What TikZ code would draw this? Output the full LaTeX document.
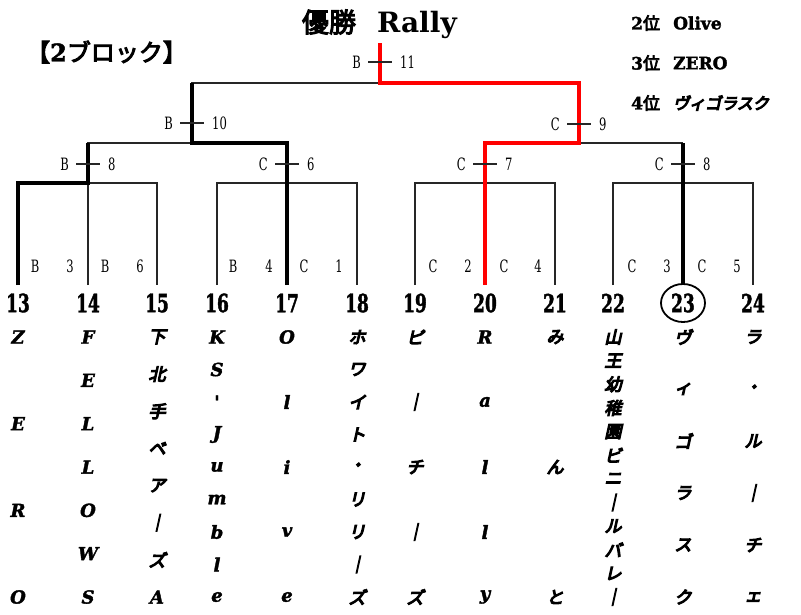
\documentclass[tikz,border=0pt]{standalone}
\usepackage{fontspec}
\setmainfont{DejaVu Serif}
\newfontfamily\narrowserif[FakeStretch=0.68]{DejaVu Serif}
\newfontfamily\seedserif[FakeStretch=0.68,FakeBold=1.5]{DejaVu Serif}
\newfontfamily\heavyserif[FakeBold=2]{DejaVu Serif}
\newfontfamily\jpfont[FakeBold=4]{Noto Sans CJK JP}
\newfontfamily\jpslant[FakeBold=7,FakeSlant=0.22]{Noto Sans CJK JP}
\usetikzlibrary{positioning}

\newcommand\latname{\heavyserif\bfseries\itshape\fontsize{18}{18}\selectfont}
\newcommand\jpname{\jpslant\fontsize{17}{17}\selectfont}

% team name, one letter a line, spread from y=337 down to y=597
\newcommand\teamname[5]{%
  \foreach \ch [count=\k] in {#5}
    \node[namech, font=#4] (name#1-\k) at (#2, {337+(\k-1)*260/(#3-1)}) {\ch};
}
% mark on a bracket line: court on the left, match number on the right
\newcommand\roundmark[5]{%
  \coordinate (#1) at (#2,#3);
  \draw[tick] ([xshift=-12pt]#1) -- ([xshift=12pt]#1);
  \node[court, left=19pt of #1] (#1-court) {#4};
  \node[court, right=20pt of #1] (#1-game) {#5};
}

\begin{document}
\begin{tikzpicture}[x=1pt, y=-1pt,
    bracket/.style={draw=black!85, line width=1.2pt},
    winner/.style={draw=black, line width=4.5pt},
    champion/.style={draw=red, line width=4.5pt},
    tick/.style={draw=black!85, line width=1.1pt},
    court/.style={inner sep=0pt, font=\narrowserif\fontsize{17}{17}\selectfont},
    seed/.style={inner sep=0pt, font=\seedserif\bfseries\fontsize{25}{25}\selectfont},
    rank/.style={inner sep=0pt, anchor=west, font=\jpfont\fontsize{17}{17}\selectfont},
    namech/.style={inner sep=0pt},
  ]
  \useasboundingbox (0,0) rectangle (801,614);

  % headings
  \node[inner sep=0pt, font=\jpfont\fontsize{27}{27}\selectfont] (title) at (329,22) {優勝};
  \node[inner sep=0pt, anchor=base west, font=\bfseries\fontsize{28}{28}\selectfont] (titlename) at (377,32) {Rally};
  \node[inner sep=0pt, anchor=west, font=\jpfont\fontsize{24}{24}\selectfont] (block) at (26,52) {【{\heavyserif\bfseries 2}ブロック】};

  \node[rank] (rank2) at (631,23) {{\heavyserif\bfseries 2}位};
  \node[rank] (rank3) at (631,63) {{\heavyserif\bfseries 3}位};
  \node[rank] (rank4) at (631,103) {{\heavyserif\bfseries 4}位};
  \node[rank, font=\heavyserif\bfseries\fontsize{17}{17}\selectfont] (rank2name) at (673,23) {Olive};
  \node[rank, font=\heavyserif\bfseries\fontsize{17}{17}\selectfont] (rank3name) at (673,63) {ZERO};
  \node[rank, font=\jpslant\fontsize{16}{16}\selectfont] (rank4name) at (673,103) {ヴィゴラスク};

  % bracket
  \draw[bracket] (18,285) -- (18,183) -- (157,183) -- (157,285);
  \draw[bracket] (88,285) -- (88,143) -- (287,143);
  \draw[bracket] (217,285) -- (217,183) -- (357,183) -- (357,285);
  \draw[bracket] (287,285) -- (287,143);
  \draw[bracket] (192,143) -- (192,83) -- (579,83);
  \draw[bracket] (415,285) -- (415,183) -- (555,183) -- (555,285);
  \draw[bracket] (485,285) -- (485,143) -- (683,143);
  \draw[bracket] (613,285) -- (613,183) -- (753,183) -- (753,285);
  \draw[bracket] (683,285) -- (683,143);
  \draw[bracket] (579,143) -- (579,83);
  \draw[bracket] (380,83) -- (380,43);

  % winners
  \draw[winner] (18,285) -- (18,183) -- (88,183) -- (88,143);
  \draw[winner] (287,285) -- (287,143) -- (192,143) -- (192,83);
  \draw[winner] (683,284) -- (683,143);
  \draw[champion] (485,285) -- (485,143) -- (579,143) -- (579,83) -- (380,83) -- (380,43);

  \roundmark{m11}{380}{62}{B}{11}
  \roundmark{m10}{192}{123}{B}{10}
  \roundmark{m9}{579}{124}{C}{9}
  \roundmark{m8}{88}{164}{B}{8}
  \roundmark{m6}{287}{164}{C}{6}
  \roundmark{m7}{485}{164}{C}{7}
  \roundmark{m8b}{683}{164}{C}{8}

  % first games
  \foreach \xx/\tag [count=\k] in {35/B,70/3,105/B,140/6,233/B,269/4,304/C,339/1,
      433/C,468/2,504/C,538/4,632/C,667/3,702/C,737/5}
    \node[court] (game\k) at (\xx,266) {\tag};

  % seeds
  \foreach \num/\xx in {13/18,14/88,15/157,16/217,17/287,18/357,
      19/415,20/485,21/555,22/613,23/683,24/753}
    \node[seed] (seed\num) at (\xx,303) {\num};
  \draw[line width=1.8pt] (seed23) ellipse (22pt and 19pt);

  % names
  \teamname{13}{18}{4}{\latname}{Z,E,R,O}
  \teamname{14}{88}{7}{\latname}{F,E,L,L,O,W,S}
  \teamname{15}{157}{8}{\jpname}{下,北,手,ベ,ア,｜,ズ,{\latname A}}
  \teamname{16}{217}{9}{\latname}{K,S,',J,u,m,b,l,e}
  \teamname{17}{287}{5}{\latname}{O,l,i,v,e}
  \teamname{18}{357}{9}{\jpname}{ホ,ワ,イ,ト,・,リ,リ,｜,ズ}
  \teamname{19}{415}{5}{\jpname}{ピ,｜,チ,｜,ズ}
  \teamname{20}{485}{5}{\latname}{R,a,l,l,y}
  \teamname{21}{555}{3}{\jpname}{み,ん,と}
  \teamname{22}{613}{12}{\jpname}{山,王,幼,稚,園,ビ,ニ,｜,ル,バ,レ,｜}
  \teamname{23}{683}{6}{\jpname}{ヴ,ィ,ゴ,ラ,ス,ク}
  \teamname{24}{753}{6}{\jpname}{ラ,・,ル,｜,チ,ェ}
\end{tikzpicture}
\end{document}
